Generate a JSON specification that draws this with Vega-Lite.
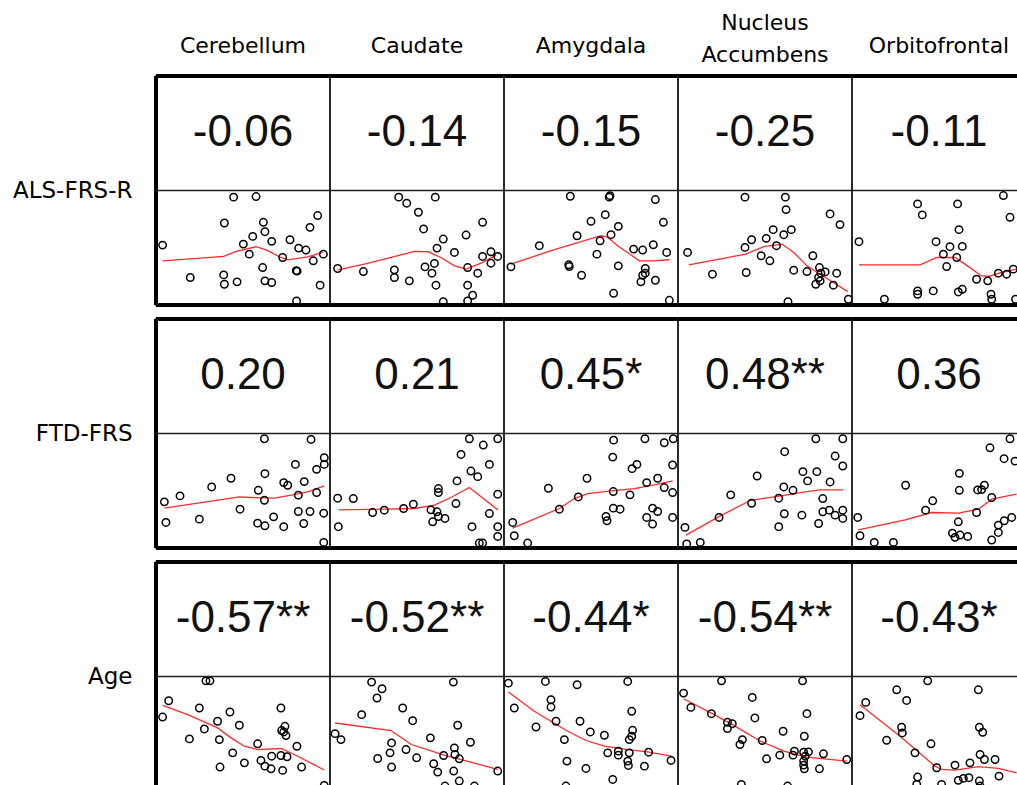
{
"$schema": "https://vega.github.io/schema/vega-lite/v6.json",
"padding": {"left": 12, "top": 11, "right": 0, "bottom": 0},
"background": "white",
"bounds": "flush",
"data": {"values": [
{"k":"c","r":"ALS-FRS-R","c":"Cerebellum","t":"-0.06"},
{"k":"c","r":"ALS-FRS-R","c":"Caudate","t":"-0.14"},
{"k":"c","r":"ALS-FRS-R","c":"Amygdala","t":"-0.15"},
{"k":"c","r":"ALS-FRS-R","c":"Nucleus Accumbens","t":"-0.25"},
{"k":"c","r":"ALS-FRS-R","c":"Orbitofrontal","t":"-0.11"},
{"k":"c","r":"FTD-FRS","c":"Cerebellum","t":"0.20"},
{"k":"c","r":"FTD-FRS","c":"Caudate","t":"0.21"},
{"k":"c","r":"FTD-FRS","c":"Amygdala","t":"0.45*"},
{"k":"c","r":"FTD-FRS","c":"Nucleus Accumbens","t":"0.48**"},
{"k":"c","r":"FTD-FRS","c":"Orbitofrontal","t":"0.36"},
{"k":"c","r":"Age","c":"Cerebellum","t":"-0.57**"},
{"k":"c","r":"Age","c":"Caudate","t":"-0.52**"},
{"k":"c","r":"Age","c":"Amygdala","t":"-0.44*"},
{"k":"c","r":"Age","c":"Nucleus Accumbens","t":"-0.54**"},
{"k":"c","r":"Age","c":"Orbitofrontal","t":"-0.43*"},

{"k":"p","r":"ALS-FRS-R","c":"Cerebellum","x":0.038,"y":0.523},{"k":"p","r":"ALS-FRS-R","c":"Cerebellum","x":0.446,"y":0.942},{"k":"p","r":"ALS-FRS-R","c":"Cerebellum","x":0.575,"y":0.947},{"k":"p","r":"ALS-FRS-R","c":"Cerebellum","x":0.393,"y":0.716},{"k":"p","r":"ALS-FRS-R","c":"Cerebellum","x":0.617,"y":0.722},{"k":"p","r":"ALS-FRS-R","c":"Cerebellum","x":0.626,"y":0.640},{"k":"p","r":"ALS-FRS-R","c":"Cerebellum","x":0.556,"y":0.599},{"k":"p","r":"ALS-FRS-R","c":"Cerebellum","x":0.502,"y":0.532},{"k":"p","r":"ALS-FRS-R","c":"Cerebellum","x":0.665,"y":0.556},{"k":"p","r":"ALS-FRS-R","c":"Cerebellum","x":0.536,"y":0.444},{"k":"p","r":"ALS-FRS-R","c":"Cerebellum","x":0.770,"y":0.570},{"k":"p","r":"ALS-FRS-R","c":"Cerebellum","x":0.820,"y":0.497},{"k":"p","r":"ALS-FRS-R","c":"Cerebellum","x":0.862,"y":0.480},{"k":"p","r":"ALS-FRS-R","c":"Cerebellum","x":0.929,"y":0.781},{"k":"p","r":"ALS-FRS-R","c":"Cerebellum","x":0.885,"y":0.678},{"k":"p","r":"ALS-FRS-R","c":"Cerebellum","x":0.728,"y":0.415},{"k":"p","r":"ALS-FRS-R","c":"Cerebellum","x":0.904,"y":0.386},{"k":"p","r":"ALS-FRS-R","c":"Cerebellum","x":0.962,"y":0.444},{"k":"p","r":"ALS-FRS-R","c":"Cerebellum","x":0.613,"y":0.327},{"k":"p","r":"ALS-FRS-R","c":"Cerebellum","x":0.806,"y":0.300},{"k":"p","r":"ALS-FRS-R","c":"Cerebellum","x":0.811,"y":0.296},{"k":"p","r":"ALS-FRS-R","c":"Cerebellum","x":0.197,"y":0.240},{"k":"p","r":"ALS-FRS-R","c":"Cerebellum","x":0.389,"y":0.263},{"k":"p","r":"ALS-FRS-R","c":"Cerebellum","x":0.393,"y":0.181},{"k":"p","r":"ALS-FRS-R","c":"Cerebellum","x":0.466,"y":0.202},{"k":"p","r":"ALS-FRS-R","c":"Cerebellum","x":0.626,"y":0.211},{"k":"p","r":"ALS-FRS-R","c":"Cerebellum","x":0.665,"y":0.196},{"k":"p","r":"ALS-FRS-R","c":"Cerebellum","x":0.943,"y":0.173},{"k":"p","r":"ALS-FRS-R","c":"Cerebellum","x":0.808,"y":0.035},
{"k":"l","r":"ALS-FRS-R","c":"Cerebellum","x":0.038,"y":0.386},{"k":"l","r":"ALS-FRS-R","c":"Cerebellum","x":0.389,"y":0.424},{"k":"l","r":"ALS-FRS-R","c":"Cerebellum","x":0.460,"y":0.468},{"k":"l","r":"ALS-FRS-R","c":"Cerebellum","x":0.575,"y":0.509},{"k":"l","r":"ALS-FRS-R","c":"Cerebellum","x":0.632,"y":0.482},{"k":"l","r":"ALS-FRS-R","c":"Cerebellum","x":0.718,"y":0.415},{"k":"l","r":"ALS-FRS-R","c":"Cerebellum","x":0.757,"y":0.395},{"k":"l","r":"ALS-FRS-R","c":"Cerebellum","x":0.872,"y":0.421},{"k":"l","r":"ALS-FRS-R","c":"Cerebellum","x":0.958,"y":0.459},

{"k":"p","r":"ALS-FRS-R","c":"Caudate","x":0.395,"y":0.942},{"k":"p","r":"ALS-FRS-R","c":"Caudate","x":0.441,"y":0.889},{"k":"p","r":"ALS-FRS-R","c":"Caudate","x":0.605,"y":0.942},{"k":"p","r":"ALS-FRS-R","c":"Caudate","x":0.508,"y":0.810},{"k":"p","r":"ALS-FRS-R","c":"Caudate","x":0.538,"y":0.664},{"k":"p","r":"ALS-FRS-R","c":"Caudate","x":0.651,"y":0.576},{"k":"p","r":"ALS-FRS-R","c":"Caudate","x":0.615,"y":0.497},{"k":"p","r":"ALS-FRS-R","c":"Caudate","x":0.782,"y":0.611},{"k":"p","r":"ALS-FRS-R","c":"Caudate","x":0.877,"y":0.722},{"k":"p","r":"ALS-FRS-R","c":"Caudate","x":0.715,"y":0.459},{"k":"p","r":"ALS-FRS-R","c":"Caudate","x":0.044,"y":0.319},{"k":"p","r":"ALS-FRS-R","c":"Caudate","x":0.192,"y":0.292},{"k":"p","r":"ALS-FRS-R","c":"Caudate","x":0.370,"y":0.307},{"k":"p","r":"ALS-FRS-R","c":"Caudate","x":0.370,"y":0.240},{"k":"p","r":"ALS-FRS-R","c":"Caudate","x":0.456,"y":0.211},{"k":"p","r":"ALS-FRS-R","c":"Caudate","x":0.546,"y":0.333},{"k":"p","r":"ALS-FRS-R","c":"Caudate","x":0.600,"y":0.363},{"k":"p","r":"ALS-FRS-R","c":"Caudate","x":0.586,"y":0.278},{"k":"p","r":"ALS-FRS-R","c":"Caudate","x":0.609,"y":0.173},{"k":"p","r":"ALS-FRS-R","c":"Caudate","x":0.791,"y":0.327},{"k":"p","r":"ALS-FRS-R","c":"Caudate","x":0.849,"y":0.278},{"k":"p","r":"ALS-FRS-R","c":"Caudate","x":0.877,"y":0.424},{"k":"p","r":"ALS-FRS-R","c":"Caudate","x":0.925,"y":0.465},{"k":"p","r":"ALS-FRS-R","c":"Caudate","x":0.925,"y":0.365},{"k":"p","r":"ALS-FRS-R","c":"Caudate","x":0.964,"y":0.424},{"k":"p","r":"ALS-FRS-R","c":"Caudate","x":0.791,"y":0.173},{"k":"p","r":"ALS-FRS-R","c":"Caudate","x":0.820,"y":0.085},{"k":"p","r":"ALS-FRS-R","c":"Caudate","x":0.791,"y":0.035},{"k":"p","r":"ALS-FRS-R","c":"Caudate","x":0.651,"y":0.029},
{"k":"l","r":"ALS-FRS-R","c":"Caudate","x":0.044,"y":0.307},{"k":"l","r":"ALS-FRS-R","c":"Caudate","x":0.197,"y":0.357},{"k":"l","r":"ALS-FRS-R","c":"Caudate","x":0.351,"y":0.415},{"k":"l","r":"ALS-FRS-R","c":"Caudate","x":0.485,"y":0.468},{"k":"l","r":"ALS-FRS-R","c":"Caudate","x":0.561,"y":0.465},{"k":"l","r":"ALS-FRS-R","c":"Caudate","x":0.638,"y":0.415},{"k":"l","r":"ALS-FRS-R","c":"Caudate","x":0.715,"y":0.342},{"k":"l","r":"ALS-FRS-R","c":"Caudate","x":0.782,"y":0.313},{"k":"l","r":"ALS-FRS-R","c":"Caudate","x":0.868,"y":0.365},{"k":"l","r":"ALS-FRS-R","c":"Caudate","x":0.954,"y":0.436},

{"k":"p","r":"ALS-FRS-R","c":"Amygdala","x":0.381,"y":0.950},{"k":"p","r":"ALS-FRS-R","c":"Amygdala","x":0.605,"y":0.942},{"k":"p","r":"ALS-FRS-R","c":"Amygdala","x":0.609,"y":0.955},{"k":"p","r":"ALS-FRS-R","c":"Amygdala","x":0.870,"y":0.921},{"k":"p","r":"ALS-FRS-R","c":"Amygdala","x":0.500,"y":0.731},{"k":"p","r":"ALS-FRS-R","c":"Amygdala","x":0.582,"y":0.789},{"k":"p","r":"ALS-FRS-R","c":"Amygdala","x":0.657,"y":0.687},{"k":"p","r":"ALS-FRS-R","c":"Amygdala","x":0.615,"y":0.614},{"k":"p","r":"ALS-FRS-R","c":"Amygdala","x":0.420,"y":0.605},{"k":"p","r":"ALS-FRS-R","c":"Amygdala","x":0.552,"y":0.561},{"k":"p","r":"ALS-FRS-R","c":"Amygdala","x":0.916,"y":0.722},{"k":"p","r":"ALS-FRS-R","c":"Amygdala","x":0.203,"y":0.518},{"k":"p","r":"ALS-FRS-R","c":"Amygdala","x":0.534,"y":0.444},{"k":"p","r":"ALS-FRS-R","c":"Amygdala","x":0.745,"y":0.488},{"k":"p","r":"ALS-FRS-R","c":"Amygdala","x":0.797,"y":0.480},{"k":"p","r":"ALS-FRS-R","c":"Amygdala","x":0.858,"y":0.526},{"k":"p","r":"ALS-FRS-R","c":"Amygdala","x":0.935,"y":0.459},{"k":"p","r":"ALS-FRS-R","c":"Amygdala","x":0.040,"y":0.333},{"k":"p","r":"ALS-FRS-R","c":"Amygdala","x":0.372,"y":0.351},{"k":"p","r":"ALS-FRS-R","c":"Amygdala","x":0.375,"y":0.336},{"k":"p","r":"ALS-FRS-R","c":"Amygdala","x":0.446,"y":0.260},{"k":"p","r":"ALS-FRS-R","c":"Amygdala","x":0.657,"y":0.342},{"k":"p","r":"ALS-FRS-R","c":"Amygdala","x":0.812,"y":0.319},{"k":"p","r":"ALS-FRS-R","c":"Amygdala","x":0.797,"y":0.260},{"k":"p","r":"ALS-FRS-R","c":"Amygdala","x":0.787,"y":0.202},{"k":"p","r":"ALS-FRS-R","c":"Amygdala","x":0.870,"y":0.216},{"k":"p","r":"ALS-FRS-R","c":"Amygdala","x":0.630,"y":0.102},{"k":"p","r":"ALS-FRS-R","c":"Amygdala","x":0.950,"y":0.041},{"k":"p","r":"ALS-FRS-R","c":"Amygdala","x":0.812,"y":0.278},
{"k":"l","r":"ALS-FRS-R","c":"Amygdala","x":0.040,"y":0.357},{"k":"l","r":"ALS-FRS-R","c":"Amygdala","x":0.270,"y":0.474},{"k":"l","r":"ALS-FRS-R","c":"Amygdala","x":0.557,"y":0.605},{"k":"l","r":"ALS-FRS-R","c":"Amygdala","x":0.596,"y":0.591},{"k":"l","r":"ALS-FRS-R","c":"Amygdala","x":0.653,"y":0.518},{"k":"l","r":"ALS-FRS-R","c":"Amygdala","x":0.778,"y":0.386},{"k":"l","r":"ALS-FRS-R","c":"Amygdala","x":0.854,"y":0.386},{"k":"l","r":"ALS-FRS-R","c":"Amygdala","x":0.950,"y":0.395},

{"k":"p","r":"ALS-FRS-R","c":"Nucleus Accumbens","x":0.385,"y":0.942},{"k":"p","r":"ALS-FRS-R","c":"Nucleus Accumbens","x":0.617,"y":0.942},{"k":"p","r":"ALS-FRS-R","c":"Nucleus Accumbens","x":0.621,"y":0.833},{"k":"p","r":"ALS-FRS-R","c":"Nucleus Accumbens","x":0.874,"y":0.795},{"k":"p","r":"ALS-FRS-R","c":"Nucleus Accumbens","x":0.931,"y":0.702},{"k":"p","r":"ALS-FRS-R","c":"Nucleus Accumbens","x":0.547,"y":0.658},{"k":"p","r":"ALS-FRS-R","c":"Nucleus Accumbens","x":0.651,"y":0.658},{"k":"p","r":"ALS-FRS-R","c":"Nucleus Accumbens","x":0.608,"y":0.614},{"k":"p","r":"ALS-FRS-R","c":"Nucleus Accumbens","x":0.507,"y":0.582},{"k":"p","r":"ALS-FRS-R","c":"Nucleus Accumbens","x":0.423,"y":0.570},{"k":"p","r":"ALS-FRS-R","c":"Nucleus Accumbens","x":0.385,"y":0.503},{"k":"p","r":"ALS-FRS-R","c":"Nucleus Accumbens","x":0.566,"y":0.518},{"k":"p","r":"ALS-FRS-R","c":"Nucleus Accumbens","x":0.055,"y":0.459},{"k":"p","r":"ALS-FRS-R","c":"Nucleus Accumbens","x":0.478,"y":0.430},{"k":"p","r":"ALS-FRS-R","c":"Nucleus Accumbens","x":0.528,"y":0.386},{"k":"p","r":"ALS-FRS-R","c":"Nucleus Accumbens","x":0.775,"y":0.430},{"k":"p","r":"ALS-FRS-R","c":"Nucleus Accumbens","x":0.198,"y":0.269},{"k":"p","r":"ALS-FRS-R","c":"Nucleus Accumbens","x":0.392,"y":0.284},{"k":"p","r":"ALS-FRS-R","c":"Nucleus Accumbens","x":0.665,"y":0.304},{"k":"p","r":"ALS-FRS-R","c":"Nucleus Accumbens","x":0.741,"y":0.292},{"k":"p","r":"ALS-FRS-R","c":"Nucleus Accumbens","x":0.813,"y":0.327},{"k":"p","r":"ALS-FRS-R","c":"Nucleus Accumbens","x":0.821,"y":0.278},{"k":"p","r":"ALS-FRS-R","c":"Nucleus Accumbens","x":0.912,"y":0.278},{"k":"p","r":"ALS-FRS-R","c":"Nucleus Accumbens","x":0.846,"y":0.289},{"k":"p","r":"ALS-FRS-R","c":"Nucleus Accumbens","x":0.792,"y":0.181},{"k":"p","r":"ALS-FRS-R","c":"Nucleus Accumbens","x":0.817,"y":0.211},{"k":"p","r":"ALS-FRS-R","c":"Nucleus Accumbens","x":0.893,"y":0.173},{"k":"p","r":"ALS-FRS-R","c":"Nucleus Accumbens","x":0.979,"y":0.050},{"k":"p","r":"ALS-FRS-R","c":"Nucleus Accumbens","x":0.632,"y":0.029},{"k":"p","r":"ALS-FRS-R","c":"Nucleus Accumbens","x":0.808,"y":0.240},
{"k":"l","r":"ALS-FRS-R","c":"Nucleus Accumbens","x":0.061,"y":0.351},{"k":"l","r":"ALS-FRS-R","c":"Nucleus Accumbens","x":0.389,"y":0.444},{"k":"l","r":"ALS-FRS-R","c":"Nucleus Accumbens","x":0.493,"y":0.509},{"k":"l","r":"ALS-FRS-R","c":"Nucleus Accumbens","x":0.598,"y":0.532},{"k":"l","r":"ALS-FRS-R","c":"Nucleus Accumbens","x":0.665,"y":0.459},{"k":"l","r":"ALS-FRS-R","c":"Nucleus Accumbens","x":0.741,"y":0.342},{"k":"l","r":"ALS-FRS-R","c":"Nucleus Accumbens","x":0.817,"y":0.269},{"k":"l","r":"ALS-FRS-R","c":"Nucleus Accumbens","x":0.893,"y":0.196},{"k":"l","r":"ALS-FRS-R","c":"Nucleus Accumbens","x":0.975,"y":0.117},

{"k":"p","r":"ALS-FRS-R","c":"Orbitofrontal","x":0.377,"y":0.883},{"k":"p","r":"ALS-FRS-R","c":"Orbitofrontal","x":0.404,"y":0.787},{"k":"p","r":"ALS-FRS-R","c":"Orbitofrontal","x":0.607,"y":0.883},{"k":"p","r":"ALS-FRS-R","c":"Orbitofrontal","x":0.870,"y":0.956},{"k":"p","r":"ALS-FRS-R","c":"Orbitofrontal","x":0.908,"y":0.766},{"k":"p","r":"ALS-FRS-R","c":"Orbitofrontal","x":0.615,"y":0.658},{"k":"p","r":"ALS-FRS-R","c":"Orbitofrontal","x":0.040,"y":0.553},{"k":"p","r":"ALS-FRS-R","c":"Orbitofrontal","x":0.483,"y":0.553},{"k":"p","r":"ALS-FRS-R","c":"Orbitofrontal","x":0.563,"y":0.509},{"k":"p","r":"ALS-FRS-R","c":"Orbitofrontal","x":0.634,"y":0.512},{"k":"p","r":"ALS-FRS-R","c":"Orbitofrontal","x":0.525,"y":0.444},{"k":"p","r":"ALS-FRS-R","c":"Orbitofrontal","x":0.602,"y":0.415},{"k":"p","r":"ALS-FRS-R","c":"Orbitofrontal","x":0.544,"y":0.336},{"k":"p","r":"ALS-FRS-R","c":"Orbitofrontal","x":0.716,"y":0.225},{"k":"p","r":"ALS-FRS-R","c":"Orbitofrontal","x":0.780,"y":0.211},{"k":"p","r":"ALS-FRS-R","c":"Orbitofrontal","x":0.841,"y":0.278},{"k":"p","r":"ALS-FRS-R","c":"Orbitofrontal","x":0.889,"y":0.269},{"k":"p","r":"ALS-FRS-R","c":"Orbitofrontal","x":0.927,"y":0.313},{"k":"p","r":"ALS-FRS-R","c":"Orbitofrontal","x":0.377,"y":0.123},{"k":"p","r":"ALS-FRS-R","c":"Orbitofrontal","x":0.377,"y":0.094},{"k":"p","r":"ALS-FRS-R","c":"Orbitofrontal","x":0.467,"y":0.123},{"k":"p","r":"ALS-FRS-R","c":"Orbitofrontal","x":0.611,"y":0.114},{"k":"p","r":"ALS-FRS-R","c":"Orbitofrontal","x":0.634,"y":0.137},{"k":"p","r":"ALS-FRS-R","c":"Orbitofrontal","x":0.186,"y":0.050},{"k":"p","r":"ALS-FRS-R","c":"Orbitofrontal","x":0.799,"y":0.094},{"k":"p","r":"ALS-FRS-R","c":"Orbitofrontal","x":0.803,"y":0.050},{"k":"p","r":"ALS-FRS-R","c":"Orbitofrontal","x":0.940,"y":0.050},
{"k":"l","r":"ALS-FRS-R","c":"Orbitofrontal","x":0.040,"y":0.351},{"k":"l","r":"ALS-FRS-R","c":"Orbitofrontal","x":0.391,"y":0.351},{"k":"l","r":"ALS-FRS-R","c":"Orbitofrontal","x":0.487,"y":0.415},{"k":"l","r":"ALS-FRS-R","c":"Orbitofrontal","x":0.592,"y":0.415},{"k":"l","r":"ALS-FRS-R","c":"Orbitofrontal","x":0.649,"y":0.357},{"k":"l","r":"ALS-FRS-R","c":"Orbitofrontal","x":0.745,"y":0.254},{"k":"l","r":"ALS-FRS-R","c":"Orbitofrontal","x":0.784,"y":0.249},{"k":"l","r":"ALS-FRS-R","c":"Orbitofrontal","x":0.860,"y":0.284},{"k":"l","r":"ALS-FRS-R","c":"Orbitofrontal","x":0.946,"y":0.313},

{"k":"p","r":"FTD-FRS","c":"Cerebellum","x":0.623,"y":0.954},{"k":"p","r":"FTD-FRS","c":"Cerebellum","x":0.891,"y":0.948},{"k":"p","r":"FTD-FRS","c":"Cerebellum","x":0.967,"y":0.788},{"k":"p","r":"FTD-FRS","c":"Cerebellum","x":0.967,"y":0.730},{"k":"p","r":"FTD-FRS","c":"Cerebellum","x":0.923,"y":0.687},{"k":"p","r":"FTD-FRS","c":"Cerebellum","x":0.801,"y":0.730},{"k":"p","r":"FTD-FRS","c":"Cerebellum","x":0.626,"y":0.649},{"k":"p","r":"FTD-FRS","c":"Cerebellum","x":0.431,"y":0.609},{"k":"p","r":"FTD-FRS","c":"Cerebellum","x":0.320,"y":0.533},{"k":"p","r":"FTD-FRS","c":"Cerebellum","x":0.138,"y":0.455},{"k":"p","r":"FTD-FRS","c":"Cerebellum","x":0.048,"y":0.403},{"k":"p","r":"FTD-FRS","c":"Cerebellum","x":0.588,"y":0.504},{"k":"p","r":"FTD-FRS","c":"Cerebellum","x":0.623,"y":0.417},{"k":"p","r":"FTD-FRS","c":"Cerebellum","x":0.483,"y":0.339},{"k":"p","r":"FTD-FRS","c":"Cerebellum","x":0.734,"y":0.571},{"k":"p","r":"FTD-FRS","c":"Cerebellum","x":0.757,"y":0.548},{"k":"p","r":"FTD-FRS","c":"Cerebellum","x":0.852,"y":0.580},{"k":"p","r":"FTD-FRS","c":"Cerebellum","x":0.818,"y":0.461},{"k":"p","r":"FTD-FRS","c":"Cerebellum","x":0.923,"y":0.484},{"k":"p","r":"FTD-FRS","c":"Cerebellum","x":0.057,"y":0.223},{"k":"p","r":"FTD-FRS","c":"Cerebellum","x":0.249,"y":0.252},{"k":"p","r":"FTD-FRS","c":"Cerebellum","x":0.584,"y":0.217},{"k":"p","r":"FTD-FRS","c":"Cerebellum","x":0.626,"y":0.194},{"k":"p","r":"FTD-FRS","c":"Cerebellum","x":0.676,"y":0.272},{"k":"p","r":"FTD-FRS","c":"Cerebellum","x":0.734,"y":0.186},{"k":"p","r":"FTD-FRS","c":"Cerebellum","x":0.818,"y":0.319},{"k":"p","r":"FTD-FRS","c":"Cerebellum","x":0.885,"y":0.319},{"k":"p","r":"FTD-FRS","c":"Cerebellum","x":0.964,"y":0.304},{"k":"p","r":"FTD-FRS","c":"Cerebellum","x":0.849,"y":0.214},{"k":"p","r":"FTD-FRS","c":"Cerebellum","x":0.964,"y":0.049},
{"k":"l","r":"FTD-FRS","c":"Cerebellum","x":0.048,"y":0.348},{"k":"l","r":"FTD-FRS","c":"Cerebellum","x":0.259,"y":0.397},{"k":"l","r":"FTD-FRS","c":"Cerebellum","x":0.479,"y":0.446},{"k":"l","r":"FTD-FRS","c":"Cerebellum","x":0.546,"y":0.441},{"k":"l","r":"FTD-FRS","c":"Cerebellum","x":0.680,"y":0.435},{"k":"l","r":"FTD-FRS","c":"Cerebellum","x":0.776,"y":0.461},{"k":"l","r":"FTD-FRS","c":"Cerebellum","x":0.872,"y":0.490},{"k":"l","r":"FTD-FRS","c":"Cerebellum","x":0.967,"y":0.542},

{"k":"p","r":"FTD-FRS","c":"Caudate","x":0.801,"y":0.954},{"k":"p","r":"FTD-FRS","c":"Caudate","x":0.881,"y":0.899},{"k":"p","r":"FTD-FRS","c":"Caudate","x":0.964,"y":0.954},{"k":"p","r":"FTD-FRS","c":"Caudate","x":0.753,"y":0.817},{"k":"p","r":"FTD-FRS","c":"Caudate","x":0.916,"y":0.730},{"k":"p","r":"FTD-FRS","c":"Caudate","x":0.810,"y":0.672},{"k":"p","r":"FTD-FRS","c":"Caudate","x":0.849,"y":0.623},{"k":"p","r":"FTD-FRS","c":"Caudate","x":0.730,"y":0.586},{"k":"p","r":"FTD-FRS","c":"Caudate","x":0.623,"y":0.519},{"k":"p","r":"FTD-FRS","c":"Caudate","x":0.623,"y":0.484},{"k":"p","r":"FTD-FRS","c":"Caudate","x":0.964,"y":0.470},{"k":"p","r":"FTD-FRS","c":"Caudate","x":0.044,"y":0.435},{"k":"p","r":"FTD-FRS","c":"Caudate","x":0.134,"y":0.432},{"k":"p","r":"FTD-FRS","c":"Caudate","x":0.245,"y":0.310},{"k":"p","r":"FTD-FRS","c":"Caudate","x":0.312,"y":0.330},{"k":"p","r":"FTD-FRS","c":"Caudate","x":0.423,"y":0.345},{"k":"p","r":"FTD-FRS","c":"Caudate","x":0.479,"y":0.383},{"k":"p","r":"FTD-FRS","c":"Caudate","x":0.580,"y":0.333},{"k":"p","r":"FTD-FRS","c":"Caudate","x":0.615,"y":0.316},{"k":"p","r":"FTD-FRS","c":"Caudate","x":0.623,"y":0.275},{"k":"p","r":"FTD-FRS","c":"Caudate","x":0.661,"y":0.258},{"k":"p","r":"FTD-FRS","c":"Caudate","x":0.590,"y":0.229},{"k":"p","r":"FTD-FRS","c":"Caudate","x":0.724,"y":0.388},{"k":"p","r":"FTD-FRS","c":"Caudate","x":0.916,"y":0.301},{"k":"p","r":"FTD-FRS","c":"Caudate","x":0.048,"y":0.186},{"k":"p","r":"FTD-FRS","c":"Caudate","x":0.816,"y":0.186},{"k":"p","r":"FTD-FRS","c":"Caudate","x":0.964,"y":0.186},{"k":"p","r":"FTD-FRS","c":"Caudate","x":0.964,"y":0.101},{"k":"p","r":"FTD-FRS","c":"Caudate","x":0.858,"y":0.043},{"k":"p","r":"FTD-FRS","c":"Caudate","x":0.877,"y":0.043},
{"k":"l","r":"FTD-FRS","c":"Caudate","x":0.050,"y":0.333},{"k":"l","r":"FTD-FRS","c":"Caudate","x":0.312,"y":0.339},{"k":"l","r":"FTD-FRS","c":"Caudate","x":0.485,"y":0.345},{"k":"l","r":"FTD-FRS","c":"Caudate","x":0.600,"y":0.374},{"k":"l","r":"FTD-FRS","c":"Caudate","x":0.695,"y":0.441},{"k":"l","r":"FTD-FRS","c":"Caudate","x":0.801,"y":0.528},{"k":"l","r":"FTD-FRS","c":"Caudate","x":0.964,"y":0.333},

{"k":"p","r":"FTD-FRS","c":"Amygdala","x":0.630,"y":0.942},{"k":"p","r":"FTD-FRS","c":"Amygdala","x":0.810,"y":0.954},{"k":"p","r":"FTD-FRS","c":"Amygdala","x":0.921,"y":0.919},{"k":"p","r":"FTD-FRS","c":"Amygdala","x":0.973,"y":0.954},{"k":"p","r":"FTD-FRS","c":"Amygdala","x":0.625,"y":0.794},{"k":"p","r":"FTD-FRS","c":"Amygdala","x":0.736,"y":0.693},{"k":"p","r":"FTD-FRS","c":"Amygdala","x":0.764,"y":0.730},{"k":"p","r":"FTD-FRS","c":"Amygdala","x":0.969,"y":0.725},{"k":"p","r":"FTD-FRS","c":"Amygdala","x":0.477,"y":0.609},{"k":"p","r":"FTD-FRS","c":"Amygdala","x":0.255,"y":0.522},{"k":"p","r":"FTD-FRS","c":"Amygdala","x":0.820,"y":0.571},{"k":"p","r":"FTD-FRS","c":"Amygdala","x":0.883,"y":0.609},{"k":"p","r":"FTD-FRS","c":"Amygdala","x":0.921,"y":0.528},{"k":"p","r":"FTD-FRS","c":"Amygdala","x":0.969,"y":0.484},{"k":"p","r":"FTD-FRS","c":"Amygdala","x":0.427,"y":0.446},{"k":"p","r":"FTD-FRS","c":"Amygdala","x":0.628,"y":0.493},{"k":"p","r":"FTD-FRS","c":"Amygdala","x":0.724,"y":0.464},{"k":"p","r":"FTD-FRS","c":"Amygdala","x":0.318,"y":0.339},{"k":"p","r":"FTD-FRS","c":"Amygdala","x":0.628,"y":0.348},{"k":"p","r":"FTD-FRS","c":"Amygdala","x":0.667,"y":0.339},{"k":"p","r":"FTD-FRS","c":"Amygdala","x":0.586,"y":0.275},{"k":"p","r":"FTD-FRS","c":"Amygdala","x":0.592,"y":0.238},{"k":"p","r":"FTD-FRS","c":"Amygdala","x":0.820,"y":0.267},{"k":"p","r":"FTD-FRS","c":"Amygdala","x":0.854,"y":0.348},{"k":"p","r":"FTD-FRS","c":"Amygdala","x":0.883,"y":0.319},{"k":"p","r":"FTD-FRS","c":"Amygdala","x":0.854,"y":0.209},{"k":"p","r":"FTD-FRS","c":"Amygdala","x":0.969,"y":0.267},{"k":"p","r":"FTD-FRS","c":"Amygdala","x":0.050,"y":0.223},{"k":"p","r":"FTD-FRS","c":"Amygdala","x":0.059,"y":0.107},{"k":"p","r":"FTD-FRS","c":"Amygdala","x":0.136,"y":0.043},
{"k":"l","r":"FTD-FRS","c":"Amygdala","x":0.050,"y":0.174},{"k":"l","r":"FTD-FRS","c":"Amygdala","x":0.318,"y":0.345},{"k":"l","r":"FTD-FRS","c":"Amygdala","x":0.404,"y":0.432},{"k":"l","r":"FTD-FRS","c":"Amygdala","x":0.481,"y":0.475},{"k":"l","r":"FTD-FRS","c":"Amygdala","x":0.615,"y":0.499},{"k":"l","r":"FTD-FRS","c":"Amygdala","x":0.749,"y":0.519},{"k":"l","r":"FTD-FRS","c":"Amygdala","x":0.864,"y":0.551},{"k":"l","r":"FTD-FRS","c":"Amygdala","x":0.969,"y":0.586},

{"k":"p","r":"FTD-FRS","c":"Nucleus Accumbens","x":0.792,"y":0.954},{"k":"p","r":"FTD-FRS","c":"Nucleus Accumbens","x":0.947,"y":0.954},{"k":"p","r":"FTD-FRS","c":"Nucleus Accumbens","x":0.613,"y":0.841},{"k":"p","r":"FTD-FRS","c":"Nucleus Accumbens","x":0.903,"y":0.803},{"k":"p","r":"FTD-FRS","c":"Nucleus Accumbens","x":0.947,"y":0.716},{"k":"p","r":"FTD-FRS","c":"Nucleus Accumbens","x":0.455,"y":0.629},{"k":"p","r":"FTD-FRS","c":"Nucleus Accumbens","x":0.718,"y":0.667},{"k":"p","r":"FTD-FRS","c":"Nucleus Accumbens","x":0.798,"y":0.667},{"k":"p","r":"FTD-FRS","c":"Nucleus Accumbens","x":0.745,"y":0.586},{"k":"p","r":"FTD-FRS","c":"Nucleus Accumbens","x":0.874,"y":0.577},{"k":"p","r":"FTD-FRS","c":"Nucleus Accumbens","x":0.303,"y":0.464},{"k":"p","r":"FTD-FRS","c":"Nucleus Accumbens","x":0.423,"y":0.391},{"k":"p","r":"FTD-FRS","c":"Nucleus Accumbens","x":0.579,"y":0.435},{"k":"p","r":"FTD-FRS","c":"Nucleus Accumbens","x":0.608,"y":0.533},{"k":"p","r":"FTD-FRS","c":"Nucleus Accumbens","x":0.661,"y":0.504},{"k":"p","r":"FTD-FRS","c":"Nucleus Accumbens","x":0.832,"y":0.432},{"k":"p","r":"FTD-FRS","c":"Nucleus Accumbens","x":0.236,"y":0.267},{"k":"p","r":"FTD-FRS","c":"Nucleus Accumbens","x":0.579,"y":0.186},{"k":"p","r":"FTD-FRS","c":"Nucleus Accumbens","x":0.611,"y":0.299},{"k":"p","r":"FTD-FRS","c":"Nucleus Accumbens","x":0.712,"y":0.287},{"k":"p","r":"FTD-FRS","c":"Nucleus Accumbens","x":0.808,"y":0.214},{"k":"p","r":"FTD-FRS","c":"Nucleus Accumbens","x":0.832,"y":0.316},{"k":"p","r":"FTD-FRS","c":"Nucleus Accumbens","x":0.870,"y":0.330},{"k":"p","r":"FTD-FRS","c":"Nucleus Accumbens","x":0.903,"y":0.287},{"k":"p","r":"FTD-FRS","c":"Nucleus Accumbens","x":0.947,"y":0.330},{"k":"p","r":"FTD-FRS","c":"Nucleus Accumbens","x":0.947,"y":0.258},{"k":"p","r":"FTD-FRS","c":"Nucleus Accumbens","x":0.040,"y":0.180},{"k":"p","r":"FTD-FRS","c":"Nucleus Accumbens","x":0.050,"y":0.035},{"k":"p","r":"FTD-FRS","c":"Nucleus Accumbens","x":0.128,"y":0.049},
{"k":"l","r":"FTD-FRS","c":"Nucleus Accumbens","x":0.046,"y":0.113},{"k":"l","r":"FTD-FRS","c":"Nucleus Accumbens","x":0.227,"y":0.267},{"k":"l","r":"FTD-FRS","c":"Nucleus Accumbens","x":0.417,"y":0.417},{"k":"l","r":"FTD-FRS","c":"Nucleus Accumbens","x":0.589,"y":0.455},{"k":"l","r":"FTD-FRS","c":"Nucleus Accumbens","x":0.741,"y":0.493},{"k":"l","r":"FTD-FRS","c":"Nucleus Accumbens","x":0.817,"y":0.507},{"k":"l","r":"FTD-FRS","c":"Nucleus Accumbens","x":0.950,"y":0.507},

{"k":"p","r":"FTD-FRS","c":"Orbitofrontal","x":0.793,"y":0.875},{"k":"p","r":"FTD-FRS","c":"Orbitofrontal","x":0.908,"y":0.954},{"k":"p","r":"FTD-FRS","c":"Orbitofrontal","x":0.874,"y":0.780},{"k":"p","r":"FTD-FRS","c":"Orbitofrontal","x":0.937,"y":0.759},{"k":"p","r":"FTD-FRS","c":"Orbitofrontal","x":0.617,"y":0.652},{"k":"p","r":"FTD-FRS","c":"Orbitofrontal","x":0.308,"y":0.548},{"k":"p","r":"FTD-FRS","c":"Orbitofrontal","x":0.617,"y":0.504},{"k":"p","r":"FTD-FRS","c":"Orbitofrontal","x":0.722,"y":0.507},{"k":"p","r":"FTD-FRS","c":"Orbitofrontal","x":0.761,"y":0.548},{"k":"p","r":"FTD-FRS","c":"Orbitofrontal","x":0.745,"y":0.510},{"k":"p","r":"FTD-FRS","c":"Orbitofrontal","x":0.803,"y":0.441},{"k":"p","r":"FTD-FRS","c":"Orbitofrontal","x":0.464,"y":0.412},{"k":"p","r":"FTD-FRS","c":"Orbitofrontal","x":0.423,"y":0.330},{"k":"p","r":"FTD-FRS","c":"Orbitofrontal","x":0.716,"y":0.310},{"k":"p","r":"FTD-FRS","c":"Orbitofrontal","x":0.611,"y":0.229},{"k":"p","r":"FTD-FRS","c":"Orbitofrontal","x":0.033,"y":0.267},{"k":"p","r":"FTD-FRS","c":"Orbitofrontal","x":0.046,"y":0.107},{"k":"p","r":"FTD-FRS","c":"Orbitofrontal","x":0.128,"y":0.049},{"k":"p","r":"FTD-FRS","c":"Orbitofrontal","x":0.238,"y":0.049},{"k":"p","r":"FTD-FRS","c":"Orbitofrontal","x":0.577,"y":0.130},{"k":"p","r":"FTD-FRS","c":"Orbitofrontal","x":0.592,"y":0.093},{"k":"p","r":"FTD-FRS","c":"Orbitofrontal","x":0.621,"y":0.113},{"k":"p","r":"FTD-FRS","c":"Orbitofrontal","x":0.665,"y":0.101},{"k":"p","r":"FTD-FRS","c":"Orbitofrontal","x":0.803,"y":0.070},{"k":"p","r":"FTD-FRS","c":"Orbitofrontal","x":0.841,"y":0.136},{"k":"p","r":"FTD-FRS","c":"Orbitofrontal","x":0.841,"y":0.200},{"k":"p","r":"FTD-FRS","c":"Orbitofrontal","x":0.875,"y":0.238},{"k":"p","r":"FTD-FRS","c":"Orbitofrontal","x":0.918,"y":0.267},
{"k":"l","r":"FTD-FRS","c":"Orbitofrontal","x":0.036,"y":0.159},{"k":"l","r":"FTD-FRS","c":"Orbitofrontal","x":0.305,"y":0.246},{"k":"l","r":"FTD-FRS","c":"Orbitofrontal","x":0.458,"y":0.310},{"k":"l","r":"FTD-FRS","c":"Orbitofrontal","x":0.611,"y":0.304},{"k":"l","r":"FTD-FRS","c":"Orbitofrontal","x":0.726,"y":0.339},{"k":"l","r":"FTD-FRS","c":"Orbitofrontal","x":0.803,"y":0.426},{"k":"l","r":"FTD-FRS","c":"Orbitofrontal","x":0.946,"y":0.470},

{"k":"p","r":"Age","c":"Cerebellum","x":0.287,"y":0.962},{"k":"p","r":"Age","c":"Cerebellum","x":0.310,"y":0.962},{"k":"p","r":"Age","c":"Cerebellum","x":0.073,"y":0.788},{"k":"p","r":"Age","c":"Cerebellum","x":0.038,"y":0.646},{"k":"p","r":"Age","c":"Cerebellum","x":0.249,"y":0.725},{"k":"p","r":"Age","c":"Cerebellum","x":0.425,"y":0.690},{"k":"p","r":"Age","c":"Cerebellum","x":0.354,"y":0.609},{"k":"p","r":"Age","c":"Cerebellum","x":0.479,"y":0.574},{"k":"p","r":"Age","c":"Cerebellum","x":0.278,"y":0.542},{"k":"p","r":"Age","c":"Cerebellum","x":0.192,"y":0.455},{"k":"p","r":"Age","c":"Cerebellum","x":0.364,"y":0.449},{"k":"p","r":"Age","c":"Cerebellum","x":0.718,"y":0.725},{"k":"p","r":"Age","c":"Cerebellum","x":0.741,"y":0.565},{"k":"p","r":"Age","c":"Cerebellum","x":0.722,"y":0.528},{"k":"p","r":"Age","c":"Cerebellum","x":0.734,"y":0.516},{"k":"p","r":"Age","c":"Cerebellum","x":0.747,"y":0.484},{"k":"p","r":"Age","c":"Cerebellum","x":0.584,"y":0.412},{"k":"p","r":"Age","c":"Cerebellum","x":0.441,"y":0.333},{"k":"p","r":"Age","c":"Cerebellum","x":0.508,"y":0.246},{"k":"p","r":"Age","c":"Cerebellum","x":0.603,"y":0.267},{"k":"p","r":"Age","c":"Cerebellum","x":0.626,"y":0.217},{"k":"p","r":"Age","c":"Cerebellum","x":0.661,"y":0.194},{"k":"p","r":"Age","c":"Cerebellum","x":0.665,"y":0.304},{"k":"p","r":"Age","c":"Cerebellum","x":0.718,"y":0.310},{"k":"p","r":"Age","c":"Cerebellum","x":0.753,"y":0.299},{"k":"p","r":"Age","c":"Cerebellum","x":0.728,"y":0.180},{"k":"p","r":"Age","c":"Cerebellum","x":0.810,"y":0.391},{"k":"p","r":"Age","c":"Cerebellum","x":0.837,"y":0.209},{"k":"p","r":"Age","c":"Cerebellum","x":0.368,"y":0.209},{"k":"p","r":"Age","c":"Cerebellum","x":0.967,"y":0.049},
{"k":"l","r":"Age","c":"Cerebellum","x":0.038,"y":0.748},{"k":"l","r":"Age","c":"Cerebellum","x":0.182,"y":0.667},{"k":"l","r":"Age","c":"Cerebellum","x":0.354,"y":0.551},{"k":"l","r":"Age","c":"Cerebellum","x":0.431,"y":0.464},{"k":"l","r":"Age","c":"Cerebellum","x":0.508,"y":0.391},{"k":"l","r":"Age","c":"Cerebellum","x":0.584,"y":0.362},{"k":"l","r":"Age","c":"Cerebellum","x":0.718,"y":0.371},{"k":"l","r":"Age","c":"Cerebellum","x":0.795,"y":0.319},{"k":"l","r":"Age","c":"Cerebellum","x":0.967,"y":0.183},

{"k":"p","r":"Age","c":"Caudate","x":0.239,"y":0.951},{"k":"p","r":"Age","c":"Caudate","x":0.299,"y":0.893},{"k":"p","r":"Age","c":"Caudate","x":0.270,"y":0.812},{"k":"p","r":"Age","c":"Caudate","x":0.709,"y":0.951},{"k":"p","r":"Age","c":"Caudate","x":0.182,"y":0.667},{"k":"p","r":"Age","c":"Caudate","x":0.418,"y":0.725},{"k":"p","r":"Age","c":"Caudate","x":0.475,"y":0.614},{"k":"p","r":"Age","c":"Caudate","x":0.734,"y":0.574},{"k":"p","r":"Age","c":"Caudate","x":0.029,"y":0.501},{"k":"p","r":"Age","c":"Caudate","x":0.063,"y":0.449},{"k":"p","r":"Age","c":"Caudate","x":0.354,"y":0.420},{"k":"p","r":"Age","c":"Caudate","x":0.345,"y":0.333},{"k":"p","r":"Age","c":"Caudate","x":0.274,"y":0.284},{"k":"p","r":"Age","c":"Caudate","x":0.354,"y":0.209},{"k":"p","r":"Age","c":"Caudate","x":0.437,"y":0.362},{"k":"p","r":"Age","c":"Caudate","x":0.498,"y":0.290},{"k":"p","r":"Age","c":"Caudate","x":0.577,"y":0.464},{"k":"p","r":"Age","c":"Caudate","x":0.807,"y":0.426},{"k":"p","r":"Age","c":"Caudate","x":0.653,"y":0.310},{"k":"p","r":"Age","c":"Caudate","x":0.596,"y":0.238},{"k":"p","r":"Age","c":"Caudate","x":0.619,"y":0.165},{"k":"p","r":"Age","c":"Caudate","x":0.715,"y":0.377},{"k":"p","r":"Age","c":"Caudate","x":0.718,"y":0.319},{"k":"p","r":"Age","c":"Caudate","x":0.743,"y":0.281},{"k":"p","r":"Age","c":"Caudate","x":0.711,"y":0.174},{"k":"p","r":"Age","c":"Caudate","x":0.743,"y":0.087},{"k":"p","r":"Age","c":"Caudate","x":0.964,"y":0.174},{"k":"p","r":"Age","c":"Caudate","x":0.661,"y":0.043},{"k":"p","r":"Age","c":"Caudate","x":0.830,"y":0.043},
{"k":"l","r":"Age","c":"Caudate","x":0.029,"y":0.594},{"k":"l","r":"Age","c":"Caudate","x":0.351,"y":0.528},{"k":"l","r":"Age","c":"Caudate","x":0.466,"y":0.406},{"k":"l","r":"Age","c":"Caudate","x":0.657,"y":0.313},{"k":"l","r":"Age","c":"Caudate","x":0.964,"y":0.188},

{"k":"p","r":"Age","c":"Amygdala","x":0.025,"y":0.942},{"k":"p","r":"Age","c":"Amygdala","x":0.238,"y":0.957},{"k":"p","r":"Age","c":"Amygdala","x":0.420,"y":0.928},{"k":"p","r":"Age","c":"Amygdala","x":0.711,"y":0.957},{"k":"p","r":"Age","c":"Amygdala","x":0.059,"y":0.725},{"k":"p","r":"Age","c":"Amygdala","x":0.270,"y":0.797},{"k":"p","r":"Age","c":"Amygdala","x":0.270,"y":0.733},{"k":"p","r":"Age","c":"Amygdala","x":0.184,"y":0.559},{"k":"p","r":"Age","c":"Amygdala","x":0.299,"y":0.609},{"k":"p","r":"Age","c":"Amygdala","x":0.437,"y":0.609},{"k":"p","r":"Age","c":"Amygdala","x":0.496,"y":0.516},{"k":"p","r":"Age","c":"Amygdala","x":0.577,"y":0.487},{"k":"p","r":"Age","c":"Amygdala","x":0.347,"y":0.449},{"k":"p","r":"Age","c":"Amygdala","x":0.734,"y":0.696},{"k":"p","r":"Age","c":"Amygdala","x":0.739,"y":0.530},{"k":"p","r":"Age","c":"Amygdala","x":0.734,"y":0.478},{"k":"p","r":"Age","c":"Amygdala","x":0.720,"y":0.449},{"k":"p","r":"Age","c":"Amygdala","x":0.362,"y":0.261},{"k":"p","r":"Age","c":"Amygdala","x":0.471,"y":0.197},{"k":"p","r":"Age","c":"Amygdala","x":0.596,"y":0.333},{"k":"p","r":"Age","c":"Amygdala","x":0.657,"y":0.348},{"k":"p","r":"Age","c":"Amygdala","x":0.657,"y":0.313},{"k":"p","r":"Age","c":"Amygdala","x":0.720,"y":0.333},{"k":"p","r":"Age","c":"Amygdala","x":0.711,"y":0.261},{"k":"p","r":"Age","c":"Amygdala","x":0.715,"y":0.223},{"k":"p","r":"Age","c":"Amygdala","x":0.831,"y":0.339},{"k":"p","r":"Age","c":"Amygdala","x":0.807,"y":0.217},{"k":"p","r":"Age","c":"Amygdala","x":0.960,"y":0.267},{"k":"p","r":"Age","c":"Amygdala","x":0.625,"y":0.101},{"k":"p","r":"Age","c":"Amygdala","x":0.356,"y":0.043},
{"k":"l","r":"Age","c":"Amygdala","x":0.025,"y":0.864},{"k":"l","r":"Age","c":"Amygdala","x":0.174,"y":0.696},{"k":"l","r":"Age","c":"Amygdala","x":0.366,"y":0.522},{"k":"l","r":"Age","c":"Amygdala","x":0.471,"y":0.441},{"k":"l","r":"Age","c":"Amygdala","x":0.577,"y":0.391},{"k":"l","r":"Age","c":"Amygdala","x":0.711,"y":0.362},{"k":"l","r":"Age","c":"Amygdala","x":0.826,"y":0.342},{"k":"l","r":"Age","c":"Amygdala","x":0.960,"y":0.304},

{"k":"p","r":"Age","c":"Nucleus Accumbens","x":0.032,"y":0.855},{"k":"p","r":"Age","c":"Nucleus Accumbens","x":0.074,"y":0.730},{"k":"p","r":"Age","c":"Nucleus Accumbens","x":0.192,"y":0.675},{"k":"p","r":"Age","c":"Nucleus Accumbens","x":0.250,"y":0.962},{"k":"p","r":"Age","c":"Nucleus Accumbens","x":0.716,"y":0.962},{"k":"p","r":"Age","c":"Nucleus Accumbens","x":0.427,"y":0.817},{"k":"p","r":"Age","c":"Nucleus Accumbens","x":0.442,"y":0.638},{"k":"p","r":"Age","c":"Nucleus Accumbens","x":0.741,"y":0.675},{"k":"p","r":"Age","c":"Nucleus Accumbens","x":0.284,"y":0.600},{"k":"p","r":"Age","c":"Nucleus Accumbens","x":0.312,"y":0.588},{"k":"p","r":"Age","c":"Nucleus Accumbens","x":0.284,"y":0.545},{"k":"p","r":"Age","c":"Nucleus Accumbens","x":0.370,"y":0.449},{"k":"p","r":"Age","c":"Nucleus Accumbens","x":0.356,"y":0.406},{"k":"p","r":"Age","c":"Nucleus Accumbens","x":0.484,"y":0.441},{"k":"p","r":"Age","c":"Nucleus Accumbens","x":0.604,"y":0.522},{"k":"p","r":"Age","c":"Nucleus Accumbens","x":0.726,"y":0.478},{"k":"p","r":"Age","c":"Nucleus Accumbens","x":0.509,"y":0.281},{"k":"p","r":"Age","c":"Nucleus Accumbens","x":0.585,"y":0.313},{"k":"p","r":"Age","c":"Nucleus Accumbens","x":0.661,"y":0.313},{"k":"p","r":"Age","c":"Nucleus Accumbens","x":0.669,"y":0.348},{"k":"p","r":"Age","c":"Nucleus Accumbens","x":0.722,"y":0.339},{"k":"p","r":"Age","c":"Nucleus Accumbens","x":0.750,"y":0.342},{"k":"p","r":"Age","c":"Nucleus Accumbens","x":0.731,"y":0.304},{"k":"p","r":"Age","c":"Nucleus Accumbens","x":0.836,"y":0.325},{"k":"p","r":"Age","c":"Nucleus Accumbens","x":0.722,"y":0.261},{"k":"p","r":"Age","c":"Nucleus Accumbens","x":0.722,"y":0.226},{"k":"p","r":"Age","c":"Nucleus Accumbens","x":0.726,"y":0.194},{"k":"p","r":"Age","c":"Nucleus Accumbens","x":0.813,"y":0.194},{"k":"p","r":"Age","c":"Nucleus Accumbens","x":0.970,"y":0.275},{"k":"p","r":"Age","c":"Nucleus Accumbens","x":0.364,"y":0.058},{"k":"p","r":"Age","c":"Nucleus Accumbens","x":0.630,"y":0.043},
{"k":"l","r":"Age","c":"Nucleus Accumbens","x":0.032,"y":0.806},{"k":"l","r":"Age","c":"Nucleus Accumbens","x":0.208,"y":0.667},{"k":"l","r":"Age","c":"Nucleus Accumbens","x":0.322,"y":0.571},{"k":"l","r":"Age","c":"Nucleus Accumbens","x":0.474,"y":0.435},{"k":"l","r":"Age","c":"Nucleus Accumbens","x":0.608,"y":0.348},{"k":"l","r":"Age","c":"Nucleus Accumbens","x":0.741,"y":0.296},{"k":"l","r":"Age","c":"Nucleus Accumbens","x":0.970,"y":0.261},

{"k":"p","r":"Age","c":"Orbitofrontal","x":0.079,"y":0.774},{"k":"p","r":"Age","c":"Orbitofrontal","x":0.046,"y":0.658},{"k":"p","r":"Age","c":"Orbitofrontal","x":0.257,"y":0.884},{"k":"p","r":"Age","c":"Orbitofrontal","x":0.314,"y":0.791},{"k":"p","r":"Age","c":"Orbitofrontal","x":0.435,"y":0.962},{"k":"p","r":"Age","c":"Orbitofrontal","x":0.726,"y":0.884},{"k":"p","r":"Age","c":"Orbitofrontal","x":0.285,"y":0.557},{"k":"p","r":"Age","c":"Orbitofrontal","x":0.289,"y":0.507},{"k":"p","r":"Age","c":"Orbitofrontal","x":0.199,"y":0.443},{"k":"p","r":"Age","c":"Orbitofrontal","x":0.362,"y":0.333},{"k":"p","r":"Age","c":"Orbitofrontal","x":0.454,"y":0.412},{"k":"p","r":"Age","c":"Orbitofrontal","x":0.732,"y":0.557},{"k":"p","r":"Age","c":"Orbitofrontal","x":0.751,"y":0.513},{"k":"p","r":"Age","c":"Orbitofrontal","x":0.736,"y":0.319},{"k":"p","r":"Age","c":"Orbitofrontal","x":0.761,"y":0.275},{"k":"p","r":"Age","c":"Orbitofrontal","x":0.822,"y":0.275},{"k":"p","r":"Age","c":"Orbitofrontal","x":0.678,"y":0.246},{"k":"p","r":"Age","c":"Orbitofrontal","x":0.592,"y":0.226},{"k":"p","r":"Age","c":"Orbitofrontal","x":0.487,"y":0.203},{"k":"p","r":"Age","c":"Orbitofrontal","x":0.377,"y":0.122},{"k":"p","r":"Age","c":"Orbitofrontal","x":0.372,"y":0.058},{"k":"p","r":"Age","c":"Orbitofrontal","x":0.515,"y":0.058},{"k":"p","r":"Age","c":"Orbitofrontal","x":0.611,"y":0.093},{"k":"p","r":"Age","c":"Orbitofrontal","x":0.640,"y":0.110},{"k":"p","r":"Age","c":"Orbitofrontal","x":0.672,"y":0.116},{"k":"p","r":"Age","c":"Orbitofrontal","x":0.732,"y":0.087},{"k":"p","r":"Age","c":"Orbitofrontal","x":0.845,"y":0.130},{"k":"p","r":"Age","c":"Orbitofrontal","x":0.736,"y":0.043},
{"k":"l","r":"Age","c":"Orbitofrontal","x":0.046,"y":0.754},{"k":"l","r":"Age","c":"Orbitofrontal","x":0.276,"y":0.478},{"k":"l","r":"Age","c":"Orbitofrontal","x":0.477,"y":0.217},{"k":"l","r":"Age","c":"Orbitofrontal","x":0.515,"y":0.188},{"k":"l","r":"Age","c":"Orbitofrontal","x":0.592,"y":0.183},{"k":"l","r":"Age","c":"Orbitofrontal","x":0.726,"y":0.212},{"k":"l","r":"Age","c":"Orbitofrontal","x":0.841,"y":0.197},{"k":"l","r":"Age","c":"Orbitofrontal","x":0.946,"y":0.159}
]},
"facet": {
  "row": {"field": "r", "type": "nominal", "sort": ["ALS-FRS-R", "FTD-FRS", "Age"], "header": {"title": null, "labels": false}},
  "column": {"field": "c", "type": "nominal", "sort": ["Cerebellum", "Caudate", "Amygdala", "Nucleus Accumbens", "Orbitofrontal"], "header": {"title": null, "labels": false}}
},
"spacing": {"row": 14, "column": 0},
"spec": {
  "width": 174,
  "height": 229,
  "layer": [
    {"transform": [{"filter": "datum.k == 'l'"}],
     "mark": {"type": "line", "color": "#ff2a2a", "strokeWidth": 1.3},
     "encoding": {"x": {"field": "x", "type": "quantitative", "scale": {"domain": [0, 1], "nice": false, "zero": false}, "axis": null},
                  "y": {"field": "y", "type": "quantitative", "scale": {"domain": [0, 2], "nice": false, "zero": false}, "axis": null}}},
    {"transform": [{"filter": "datum.k == 'p'"}],
     "mark": {"type": "point", "shape": "circle", "filled": false, "stroke": "black", "strokeWidth": 1.5, "size": 55, "opacity": 1},
     "encoding": {"x": {"field": "x", "type": "quantitative", "scale": {"domain": [0, 1], "nice": false, "zero": false}, "axis": null},
                  "y": {"field": "y", "type": "quantitative", "scale": {"domain": [0, 2], "nice": false, "zero": false}, "axis": null}}},
    {"transform": [{"filter": "datum.k == 'c'"}],
     "mark": {"type": "text", "font": "Liberation Sans", "fontSize": 44, "align": "center", "baseline": "middle", "color": "#111"},
     "encoding": {"x": {"datum": 0.5, "type": "quantitative", "scale": {"domain": [0, 1], "nice": false, "zero": false}, "axis": null},
                  "y": {"datum": 1.5, "type": "quantitative", "scale": {"domain": [0, 2], "nice": false, "zero": false}, "axis": null},
                  "text": {"field": "t"}}},
    {"transform": [{"filter": "datum.k == 'c' && datum.r == 'ALS-FRS-R' && datum.c != 'Nucleus Accumbens'"}],
     "mark": {"type": "text", "font": "DejaVu Sans", "fontSize": 22, "align": "center", "baseline": "middle", "color": "black"},
     "encoding": {"x": {"datum": 0.5, "type": "quantitative", "scale": {"domain": [0, 1], "nice": false, "zero": false}, "axis": null},
                  "y": {"datum": 2.262, "type": "quantitative", "scale": {"domain": [0, 2], "nice": false, "zero": false}, "axis": null},
                  "text": {"field": "c"}}},
    {"transform": [{"filter": "datum.k == 'c' && datum.r == 'ALS-FRS-R' && datum.c == 'Nucleus Accumbens'"}],
     "mark": {"type": "text", "font": "DejaVu Sans", "fontSize": 22, "align": "center", "baseline": "middle", "color": "black", "lineBreak": " ", "lineHeight": 32},
     "encoding": {"x": {"datum": 0.5, "type": "quantitative", "scale": {"domain": [0, 1], "nice": false, "zero": false}, "axis": null},
                  "y": {"datum": 2.463, "type": "quantitative", "scale": {"domain": [0, 2], "nice": false, "zero": false}, "axis": null},
                  "text": {"field": "c"}}},
    {"transform": [{"filter": "datum.k == 'c' && datum.c == 'Cerebellum'"}],
     "mark": {"type": "text", "font": "DejaVu Sans", "fontSize": 23, "align": "right", "baseline": "middle", "color": "black"},
     "encoding": {"x": {"datum": -0.135, "type": "quantitative", "scale": {"domain": [0, 1], "nice": false, "zero": false}, "axis": null},
                  "y": {"datum": 1, "type": "quantitative", "scale": {"domain": [0, 2], "nice": false, "zero": false}, "axis": null},
                  "text": {"field": "r"}}},
    {"transform": [{"filter": "datum.k == 'c'"}],
     "mark": {"type": "rule", "color": "#222", "strokeWidth": 1.6},
     "encoding": {"y": {"datum": 1, "type": "quantitative", "scale": {"domain": [0, 2], "nice": false, "zero": false}, "axis": null}}},
    {"transform": [{"filter": "datum.k == 'c'"}],
     "mark": {"type": "rule", "color": "black", "strokeWidth": 4},
     "encoding": {"y": {"datum": 2, "type": "quantitative", "scale": {"domain": [0, 2], "nice": false, "zero": false}, "axis": null}}},
    {"transform": [{"filter": "datum.k == 'c'"}],
     "mark": {"type": "rule", "color": "black", "strokeWidth": 4},
     "encoding": {"y": {"datum": 0, "type": "quantitative", "scale": {"domain": [0, 2], "nice": false, "zero": false}, "axis": null}}},
    {"transform": [{"filter": "datum.k == 'c' && datum.c == 'Cerebellum'"}],
     "mark": {"type": "rule", "color": "black", "strokeWidth": 4},
     "encoding": {"x": {"datum": 0, "type": "quantitative", "scale": {"domain": [0, 1], "nice": false, "zero": false}, "axis": null}}}
  ]
},
"config": {"view": {"stroke": "#222", "strokeWidth": 1.6}}
}
